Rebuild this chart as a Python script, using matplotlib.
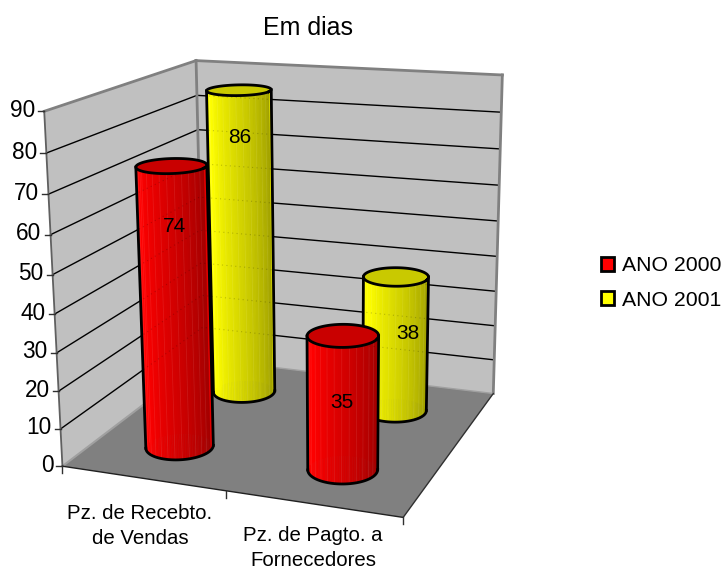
import numpy as np
import matplotlib
matplotlib.use('Agg')
import matplotlib.pyplot as plt
from matplotlib.patches import Patch, Polygon

plt.rcParams['font.family'] = ['Liberation Sans', 'DejaVu Sans']

categories = ['Pz. de Recebto.\nde Vendas', 'Pz. de Pagto. a\nFornecedores']
series_names = ['ANO 2000', 'ANO 2001']
ano_2000 = [74, 35]
ano_2001 = [86, 38]
y_ticks = [0, 10, 20, 30, 40, 50, 60, 70, 80, 90]

Z_MAX = 90
RADIUS_X = 0.097
RADIUS_Y = 0.103
COLORS = [(1.0, 0.0, 0.0), (1.0, 1.0, 0.0)]


def fit_camera():
    # box corners (x, depth, z) and where they land on the page
    corners = [
        ((0, 0, 0), (60, 465)), ((1, 0, 0), (404, 518)),
        ((1, 1, 0), (492, 393)), ((0, 1, 0), (206, 360)),
        ((0, 0, 1), (46, 112)), ((0, 1, 1), (194, 60)),
        ((1, 1, 1), (503, 75)),
    ]
    rows, rhs = [], []
    for (x, y, z), (u, v) in corners:
        rows.append([x, y, z, 1, 0, 0, 0, 0, -u * x, -u * y, -u * z])
        rhs.append(u)
        rows.append([0, 0, 0, 0, x, y, z, 1, -v * x, -v * y, -v * z])
        rhs.append(v)
    p = np.linalg.lstsq(np.array(rows, float), np.array(rhs, float), rcond=None)[0]
    return np.append(p, 1).reshape(3, 4)


CAMERA = fit_camera()


def proj(x, y, z):
    x, y, z = np.broadcast_arrays(x, y, np.asarray(z, float) / Z_MAX)
    pts = np.stack([x, y, z, np.ones_like(x, dtype=float)], axis=-1) @ CAMERA.T
    return pts[..., 0] / pts[..., 2], pts[..., 1] / pts[..., 2]


def shade(base, u):
    # bright on the left, falling off to the right of the cylinder
    k = np.interp(u, [0, 0.08, 0.3, 1], [0.9, 1.0, 1.0, 0.62])
    return tuple(c * k for c in base)


def draw_order(cx, cy):
    return 5 + (1 - cy) * 2 + (1 - cx) * 0.1


def draw_cylinder(ax, cx, cy, value, base):
    t = np.radians(np.arange(0, 360, 3))
    xs = cx + RADIUS_X * np.cos(t)
    ys = cy + RADIUS_Y * np.sin(t)
    bx, by = proj(xs, ys, 0)
    tx, ty = proj(xs, ys, value)
    z = draw_order(cx, cy)

    # facets from the far side towards the viewer
    order = np.argsort(-np.sin(t))
    for i in order:
        j = (i + 1) % len(t)
        u = np.clip((np.degrees(t[i]) - 180) / 180, 0, 1)
        col = shade(base, u)
        ax.fill([bx[i], bx[j], tx[j], tx[i]], [by[i], by[j], ty[j], ty[i]],
                color=col, lw=0.4, zorder=z)

    left, right = np.argmin(bx), np.argmax(bx)
    tl, tr = np.argmin(tx), np.argmax(tx)
    idx = np.arange(left, right + 1 if right > left else right + len(t) + 1) % len(t)

    # pale vertical seams on the lit surface
    for i in range(182, 360, 12):
        k = i // 3
        ax.plot([bx[k], tx[k]], [by[k], ty[k]], color='white', lw=0.6, alpha=0.09, zorder=z)

    # the gridlines show faintly through the body
    body = Polygon(np.r_[np.c_[bx[idx], by[idx]], [[tx[tr], ty[tr]], [tx[tl], ty[tl]]]],
                   transform=ax.transData)
    for v in y_ticks[1:-1]:
        gx, gy = proj([0, 0, 1], [0, 1, 1], v)
        line, = ax.plot(gx, gy, color='black', lw=0.8, ls=(0, (1, 3)), alpha=0.2, zorder=z + 0.05)
        line.set_clip_path(body)

    # darker lid
    lid = tuple(c * 0.79 for c in base)
    ax.fill(tx, ty, color=lid, lw=0, zorder=z + 0.2)

    # outline: lid, both sides and the front of the base
    ink = dict(color='black', lw=2, zorder=z + 0.2)
    ax.plot(np.append(tx, tx[0]), np.append(ty, ty[0]), **ink)
    ax.plot([tx[tl], bx[left]], [ty[tl], by[left]], **ink)
    ax.plot([tx[tr], bx[right]], [ty[tr], by[right]], **ink)
    ax.plot(bx[idx], by[idx], **ink)


fig = plt.figure(figsize=(7.25, 5.72), dpi=100)
ax = fig.add_axes([0, 0, 1, 1])
ax.set_xlim(0, 725)
ax.set_ylim(572, 0)
ax.axis('off')


# floor and the two walls
def face(points, **kw):
    px, py = proj(*np.array(points, float).T)
    ax.fill(px, py, **kw)


face([(0, 1, 0), (1, 1, 0), (1, 1, 90), (0, 1, 90)], color='#c0c0c0', lw=0, zorder=1)
face([(0, 0, 0), (0, 1, 0), (0, 1, 90), (0, 0, 90)], color='#c0c0c0', lw=0, zorder=1)
face([(0, 0, 0), (1, 0, 0), (1, 1, 0), (0, 1, 0)], color='#808080', lw=0, zorder=2)

# gridlines run along the left wall, then the back wall
for v in y_ticks[1:-1]:
    gx, gy = proj([0, 0, 1], [0, 1, 1], v)
    ax.plot(gx, gy, color='black', lw=1, zorder=3)


# wall edges
def edge(a, b, **kw):
    ex, ey = proj(*np.array([a, b], float).T)
    ax.plot(ex, ey, **kw)


gray = dict(color='#808080', lw=2, zorder=4, solid_capstyle='projecting')
edge((0, 0, 90), (0, 1, 90), **gray)
edge((0, 1, 90), (1, 1, 90), **gray)
edge((0, 1, 0), (0, 1, 90), **gray)
edge((1, 1, 0), (1, 1, 90), **gray)
edge((0, 1, 0), (1, 1, 0), color='#a0a0a0', lw=1, zorder=4)
edge((0, 0, 0), (0, 1, 0), color='#a0a0a0', lw=1.5, zorder=4)
edge((0, 0, 0), (0, 0, 90), color='#606060', lw=1.3, zorder=4)
edge((0, 0, 0), (1, 0, 0), color='#202020', lw=1, zorder=4)
edge((1, 0, 0), (1, 1, 0), color='#303030', lw=1, zorder=4)

# tick marks and axis labels
for v in y_ticks:
    tx, ty = proj(0, 0, v)
    ax.plot([tx - 6, tx], [ty, ty], color='#303030', lw=1, zorder=4)
    ax.text(tx - 9, ty - 1, str(v), ha='right', va='center', fontsize=16.3, color='black')

for xt in [0, 0.5, 1]:
    tx, ty = proj(xt, 0, 0)
    ax.plot([tx, tx], [ty, ty + 7], color='#303030', lw=1, zorder=4)

for name, lx, ly in zip(categories, [140, 313], [504, 526]):
    ax.text(lx, ly, name, ha='center', va='top', fontsize=14.7,
            linespacing=1.42, color='black')

ax.text(308.5, 28, 'Em dias', ha='center', va='center', fontsize=18, color='black')

# cylinders, one row per series
depths = [0.25, 0.75]
x_pos = [0.25, 0.75]
drops = [16, 13]
label_shift = [[(1, -2), (-1, 5)], [(0, 0), (12, 10)]]
for s, values in enumerate([ano_2000, ano_2001]):
    for c, value in enumerate(values):
        draw_cylinder(ax, x_pos[c], depths[s], value, COLORS[s])
        lx, ly = proj(x_pos[c], depths[s], value - drops[s])
        dx, dy = label_shift[s][c]
        ax.text(lx + dx, ly + dy, str(value), ha='center', va='center', fontsize=15,
                color='black', zorder=9)

handles = [Patch(facecolor=COLORS[i], edgecolor='black', lw=2, label=series_names[i])
           for i in range(2)]
ax.legend(handles=handles, loc='center left', bbox_to_anchor=(601 / 725, 1 - 283 / 572),
          frameon=False, fontsize=15.3, handlelength=0.62, handleheight=0.62,
          handletextpad=0.36, labelspacing=0.72, borderpad=0, borderaxespad=0)

fig.savefig('out.png', dpi=100)
